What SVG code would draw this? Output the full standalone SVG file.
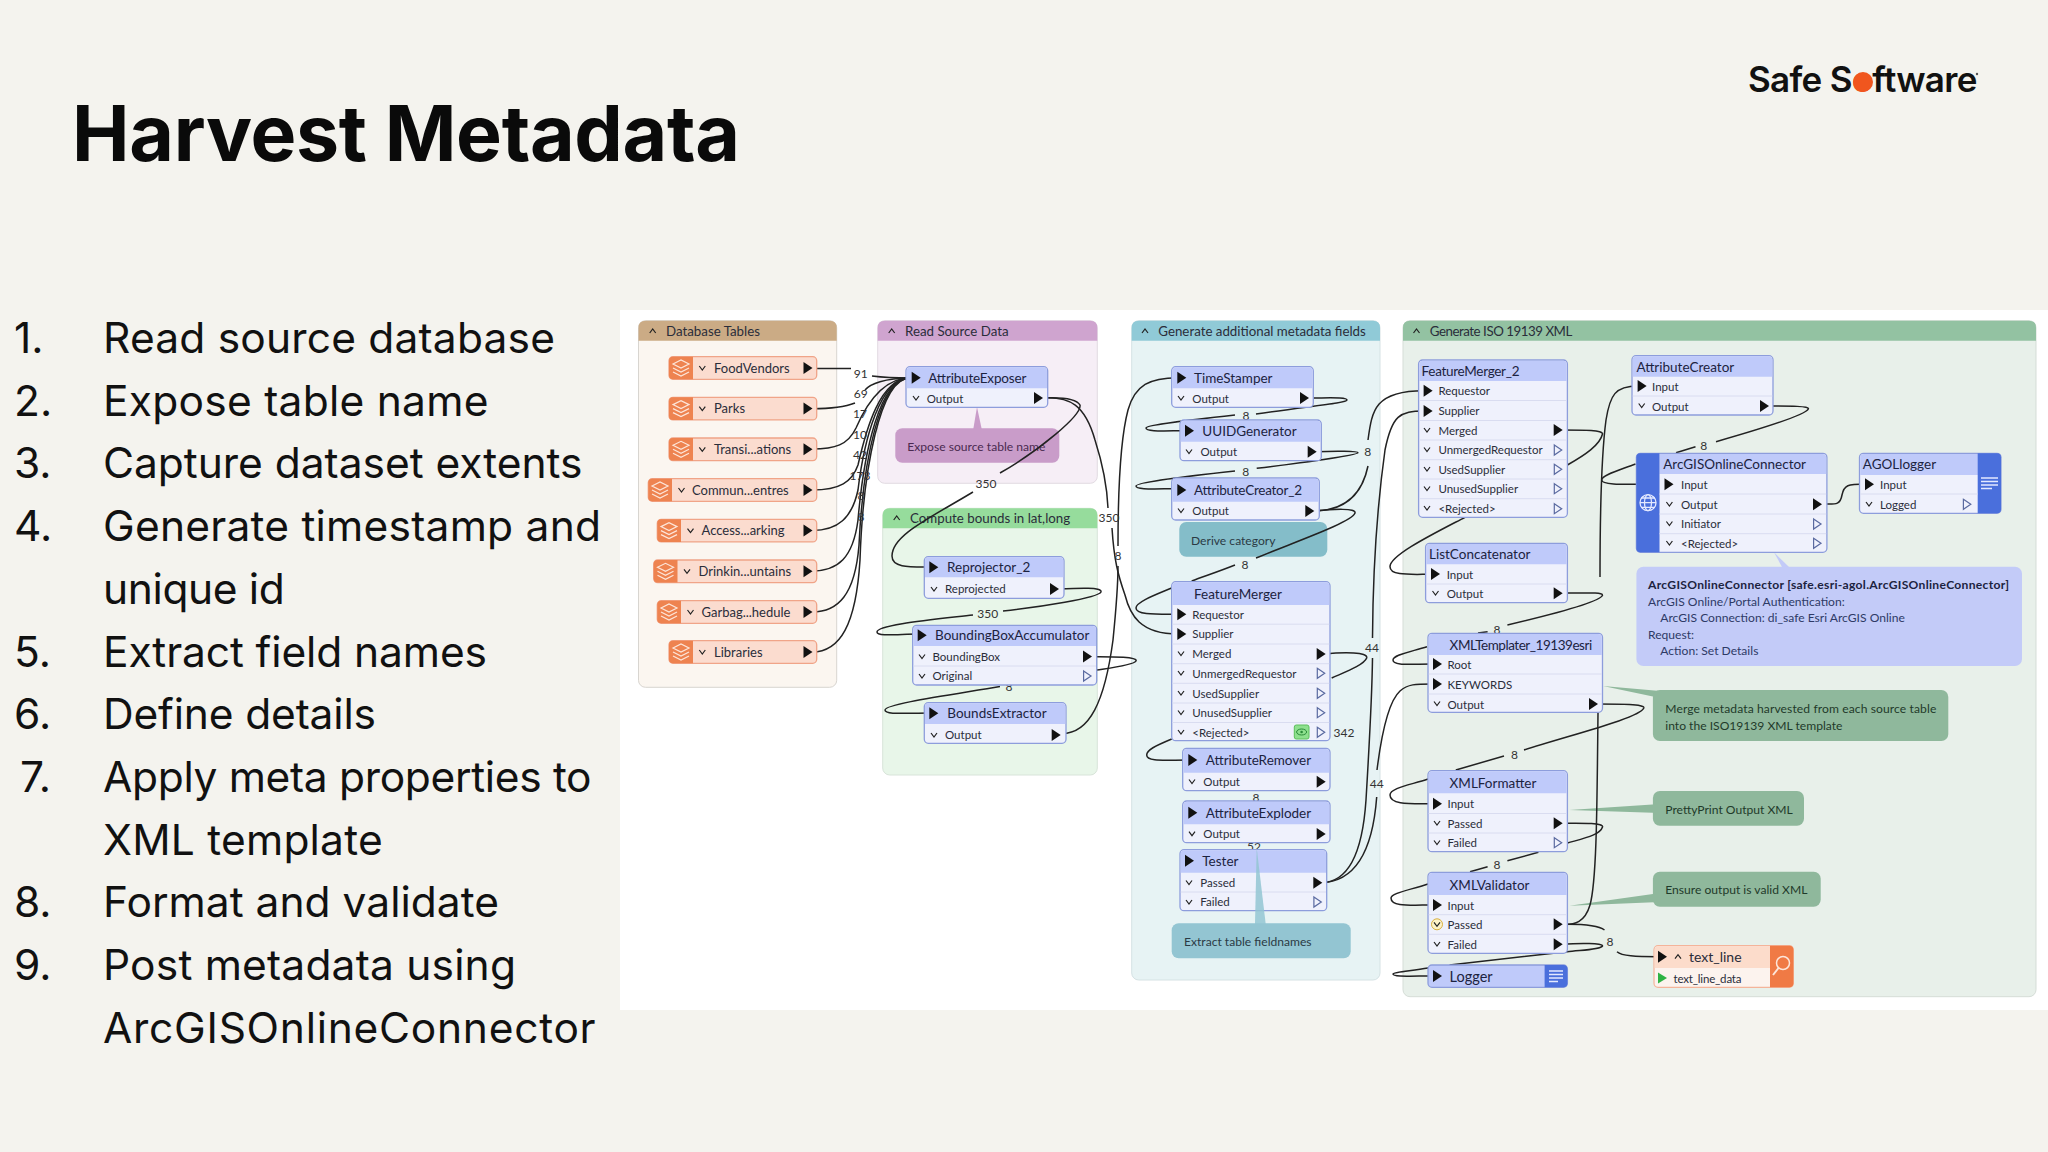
<svg xmlns="http://www.w3.org/2000/svg" width="2048" height="1152" viewBox="0 0 2048 1152">
<style>
text{font-family:Lato,"Liberation Sans",sans-serif;fill:#2a2d3a}
.h1{font-family:Inter,"Liberation Sans",sans-serif;font-weight:700;font-size:77px;fill:#0a0a0a}
.li{font-family:Inter,"Liberation Sans",sans-serif;font-size:42.5px;fill:#111}
.ph{font-size:13.3px}
.t{font-size:13.5px;fill:#1c2340}
.p{font-size:11.5px}
.rt{font-size:13px}
.lb{font-size:12px;text-anchor:middle;fill:#333}
.an{font-size:12.1px;fill:#2b3a44}
.b{fill:#eff1fc;stroke:#8d9ddc;stroke-width:1.3}
.hd{fill:#bfcafa}
.div{stroke:#d9dcf0;stroke-width:1}
.rd{fill:#fbdccf;stroke:#f0a488;stroke-width:1.3}
.ri{fill:#ee8350}
.band{fill:#4a6fdc}
.e{fill:none;stroke:#222;stroke-width:1.5}
.ch{fill:none;stroke:#222;stroke-width:1.2}
.ho{fill:none;stroke:#5a6aa0;stroke-width:1.2}
.ic{fill:none;stroke:#fde6da;stroke-width:1.2}
.wl{fill:none;stroke:#e4e9ff;stroke-width:1.3}
</style>
<defs>
<path id="ai" d="M0-6L9 0 0 6Z" fill="#111"/>
<path id="ag" d="M0-5.5L9 0 0 5.5Z" fill="#2fb344"/>
<path id="ao" d="M.6-5L8 0 .6 5Z" class="ho"/>
<path id="cd" d="M-3-2L0 2 3-2" class="ch"/>
<path id="cu" d="M-3 2L0-2 3 2" class="ch"/>
<path id="st" d="M-8-3L0-7 8-3 0 1ZM-8 1L0 5 8 1M-8 5L0 9 8 5" class="ic"/>
</defs>
<rect width="2048" height="1152" fill="#f4f3ee"/>
<rect x="620" y="310" width="1428" height="700" fill="#fff"/>
<text class="h1" x="72" y="161" textLength="668" lengthAdjust="spacing">Harvest Metadata</text>
<g id="logo"><text x="1748" y="92" style="font-family:Inter,sans-serif;font-weight:600;font-size:35px;fill:#111;letter-spacing:-.7px">Safe S<tspan style="fill:#f0561e">o</tspan>ftware</text><circle cx="1863" cy="82" r="10" fill="#f0561e"/><circle cx="1977" cy="74" r="1.2" fill="#555"/></g>
<g id="list">
<text class="li" x="14" y="353">1.</text><text class="li" x="103" y="353" textLength="452">Read source database</text>
<text class="li" x="14" y="415.7">2.</text><text class="li" x="103" y="415.7" textLength="385.5">Expose table name</text>
<text class="li" x="14" y="478.4">3.</text><text class="li" x="103" y="478.4" textLength="479.5">Capture dataset extents</text>
<text class="li" x="14" y="541">4.</text><text class="li" x="103" y="541" textLength="498">Generate timestamp and</text>
<text class="li" x="103" y="603.8" textLength="181.7">unique id</text>
<text class="li" x="14" y="666.5">5.</text><text class="li" x="103" y="666.5" textLength="384">Extract field names</text>
<text class="li" x="14" y="729">6.</text><text class="li" x="103" y="729" textLength="273">Define details</text>
<text class="li" x="20" y="792">7.</text><text class="li" x="103" y="792" textLength="488.6">Apply meta properties to</text>
<text class="li" x="103" y="854.7" textLength="279.7">XML template</text>
<text class="li" x="14" y="917.4">8.</text><text class="li" x="103" y="917.4" textLength="396">Format and validate</text>
<text class="li" x="14" y="980">9.</text><text class="li" x="103" y="980" textLength="413">Post metadata using</text>
<text class="li" x="103" y="1042.8" textLength="492.6">ArcGISOnlineConnector</text>
</g>
<g id="panels">
<g id="p-db"><rect x="638.5" y="320.7" width="198.2" height="366.6" rx="7" fill="#fbf6f0" stroke="#d8d5d0"/><path d="M638.5 340.7V327.7q0-7 7-7H829.7q7 0 7 7V340.7Z" fill="#cbab85"/><use href="#cu" x="652.7" y="331"/><text class="ph" x="666" y="335.5">Database Tables</text></g>
<g id="p-read"><rect x="877.7" y="320.7" width="219.6" height="162.6" rx="7" fill="#f6eef6" stroke="#e2dbe2"/><path d="M877.7 340.7V327.7q0-7 7-7H1090.3q7 0 7 7V340.7Z" fill="#cfa4cf"/><use href="#cu" x="891.7" y="331"/><text class="ph" x="905" y="335.5">Read Source Data</text></g>
<g id="p-bounds"><rect x="882.7" y="508.3" width="214.6" height="266.7" rx="7" fill="#e8f6e9" stroke="#d8e4d9"/><path d="M882.7 528.3V515.3q0-7 7-7H1090.3q7 0 7 7V528.3Z" fill="#96dc9c"/><use href="#cu" x="896.7" y="518"/><text class="ph" x="910" y="523">Compute bounds in lat,long</text></g>
<g id="p-gen"><rect x="1131.7" y="320.7" width="248.3" height="659.3" rx="7" fill="#e7f3f4" stroke="#d5e2e4"/><path d="M1131.7 340.7V327.7q0-7 7-7H1373q7 0 7 7V340.7Z" fill="#90cad7"/><use href="#cu" x="1145" y="331"/><text class="ph" x="1158.3" y="335.5">Generate additional metadata fields</text></g>
<g id="p-iso"><rect x="1403" y="320.7" width="633" height="676" rx="7" fill="#e8f0ea" stroke="#d5ddd7"/><path d="M1403 340.7V327.7q0-7 7-7H2029q7 0 7 7V340.7Z" fill="#93c2a2"/><use href="#cu" x="1416.5" y="331"/><text class="ph" x="1429.8" y="335.5" textLength="142.5">Generate ISO 19139 XML</text></g>
</g>
<g id="annotations">
<g id="a-expose"><path d="M973.3 429L977 407 981.7 429Z" fill="#c99cc9"/><rect x="895.3" y="428.3" width="164" height="34.4" rx="7" fill="#c99cc9"/><text class="an" x="907.3" y="451" style="fill:#4a2a50">Expose source table name</text></g>
<g id="a-derive"><rect x="1179.3" y="522" width="148" height="34.7" rx="7" fill="#84bdc9"/><text class="an" x="1191" y="545">Derive category</text></g>
<g id="a-extract"><rect x="1171.7" y="923.3" width="179" height="35" rx="7" fill="#93c5d2"/><text class="an" x="1184" y="946">Extract table fieldnames</text></g>
<g id="a-arcgis"><path d="M1774 552.3L1782 567H1789Z" fill="#c3cbf8"/><rect x="1636.4" y="566.7" width="385.6" height="99.3" rx="7" fill="#c3cbf8"/>
<text class="an" x="1648" y="589" textLength="361" style="font-weight:700;fill:#1c2340">ArcGISOnlineConnector [safe.esri-agol.ArcGISOnlineConnector]</text>
<text class="an" x="1648" y="606" style="fill:#2e3a66">ArcGIS Online/Portal Authentication:</text>
<text class="an" x="1660.3" y="622" style="fill:#2e3a66">ArcGIS Connection: di_safe Esri ArcGIS Online</text>
<text class="an" x="1648" y="638.5" style="fill:#2e3a66">Request:</text>
<text class="an" x="1660.3" y="655" style="fill:#2e3a66">Action: Set Details</text></g>
<g id="a-merge"><path d="M1603 686L1660 691V698Z" fill="#8fb89c"/><rect x="1652.9" y="690" width="295.4" height="51" rx="7" fill="#8fb89c"/><text class="an" x="1665.3" y="712.5" textLength="271" style="fill:#1f3a2a">Merge metadata harvested from each source table</text><text class="an" x="1665.3" y="729.5" style="fill:#1f3a2a">into the ISO19139 XML template</text></g>
<g id="a-pretty"><path d="M1569.4 810L1660 804V813Z" fill="#8fb89c"/><rect x="1652.9" y="791" width="151.1" height="34.7" rx="7" fill="#8fb89c"/><text class="an" x="1665.3" y="813.5" style="fill:#1f3a2a">PrettyPrint Output XML</text></g>
<g id="a-ensure"><path d="M1569.4 905.7L1660 893V902Z" fill="#8fb89c"/><rect x="1652.9" y="871.7" width="167.8" height="35" rx="7" fill="#8fb89c"/><text class="an" x="1665.3" y="894" style="fill:#1f3a2a">Ensure output is valid XML</text></g>
</g>
<g id="connectors">
<path class="e" d="M812 368.5H851M872 376C880 377 890 378 910 378"/>
<path class="e" d="M812 408.7C830 408.7 845 407 855 403M865 390C870 384 885 378 910 378"/>
<path class="e" d="M812 449C835 449 848 445 856 428C866 405 882 378 910 378"/>
<path class="e" d="M812 490C840 490 852 482 858 465C866 430 880 378 910 378"/>
<path class="e" d="M812 530.5C838 530.5 852 518 858 490C864 440 880 378 910 378"/>
<path class="e" d="M812 571C838 571 853 558 858 520C864 450 880 378 910 378"/>
<path class="e" d="M812 612C838 612 855 595 859 545C863 460 880 378 910 378"/>
<path class="e" d="M812 652C840 652 856 625 860 560C863 470 880 378 910 378"/>
<path class="e" d="M1042 398C1060 397 1076 398 1080 405C1082 415 1040 450 1000 473M973 492C930 518 892 535 892 556C892 568 910 567 930 567"/>
<path class="e" d="M1042 398C1070 396 1085 405 1095 440C1103 465 1107 485 1108 508M1112 528C1114 560 1118 575 1125 595C1130 615 1140 634 1178 634"/>
<path class="e" d="M1058 589C1080 588 1102 587 1101 592C1098 598 1040 607 1003 611M973 615C930 620 877 625 877 632C877 637 900 634 918 634"/>
<path class="e" d="M1091 656.7C1115 656.5 1138 657 1136 661C1134 665 1110 668 1097 670M1000 686.5C950 695 885 704 885 710C885 715 905 713 930 713"/>
<path class="e" d="M1060 733.5C1090 735 1105 700 1113 640C1116 610 1118 590 1118 566M1118 546C1118 500 1120 440 1128 410C1135 385 1150 377.7 1178 377.7"/>
<path class="e" d="M1308 398C1330 398 1347 397 1347 400C1347 403 1310 406 1256 414M1235 415C1190 420 1146 425 1146 428C1146 432 1165 430.7 1186 430.7"/>
<path class="e" d="M1316 451.7C1335 451 1358 451 1358 452.7C1358 455 1300 463 1256.7 468.3M1235 471C1190 476 1136 482 1136 486C1136 490 1155 488.7 1178 488.7"/>
<path class="e" d="M1313 511C1345 511 1362 495 1368 466M1368 440C1372 410 1375 390.7 1424 390.7"/>
<path class="e" d="M1313 511C1335 509 1356 508 1355 513C1352 522 1300 540 1256 558M1235 565C1220 571 1205 576 1191.7 581M1171.7 588C1155 595 1136 602 1136 608C1136 615 1155 614.3 1178 614.3"/>
<path class="e" d="M1324 654C1345 652 1368 652 1366.7 658C1364 665 1345 672 1331.7 678M1171.7 739C1155 746 1146.7 750 1146.7 755C1146.7 762 1165 760 1188 760"/>
<path class="e" d="M1321 882.7C1345 882.7 1362 860 1366 800C1369 750 1372 700 1372.5 658M1372.5 638C1373 560 1378 500 1385 450C1392 415 1400 411 1424 411"/>
<path class="e" d="M1321 882.7C1350 882 1372 860 1376.7 797M1377 770C1382 730 1390 700 1400 691C1408 684 1415 684 1433 684"/>
<path class="e" d="M1562 430C1585 430 1603 430 1602.5 434C1600 445 1585 455 1567.4 465M1465 517.3C1435 533 1390 555 1390 566.7C1390 576 1410 574.3 1431 574.3"/>
<path class="e" d="M1562 593C1585 593 1603 592 1602.5 595.3C1600 602 1550 615 1507.4 625M1487.6 631.7L1478 633M1427 646.7C1410 652 1393 655 1393 660C1393 666 1410 664 1433 664"/>
<path class="e" d="M1597 704C1620 704 1645 704 1643.8 708C1640 718 1570 735 1524 750M1504 756L1455.8 770M1428 779C1410 785 1390 788 1390 795C1390 805 1410 803.7 1433 803.7"/>
<path class="e" d="M1562 823.3C1585 823 1604 823 1602.5 827C1600 835 1585 838 1567.4 843M1538.4 852.3L1507.4 860.7M1487.6 866.7L1470 871.7M1428 884C1410 890 1391 893 1391 898C1391 907 1410 905 1433 905"/>
<path class="e" d="M1562 924.3C1575 925 1585 922 1590 905C1597 880 1597 800 1598 713M1600 577C1600 500 1602 450 1606 420C1610 395 1615 386 1638 386"/>
<path class="e" d="M1562 924.3C1580 924 1598 925 1604.5 930M1617 951.7C1622 956 1635 956.7 1658 956.7"/>
<path class="e" d="M1562 944.3C1580 943 1603 943 1602.5 946C1600 950 1580 950 1567 951.7L1449.6 965M1428 968C1410 971 1393 972 1393 974C1393 977 1410 976 1433 976"/>
<path class="e" d="M1768 406C1790 406 1810 406 1808.3 409C1805 416 1750 432 1716 441.7M1695.5 446.7L1676 452.7M1635.5 464C1620 470 1601.7 475 1601.7 480C1601.7 486 1630 484 1665 484"/>
<path class="e" d="M1821 504C1835 504 1840 506 1842 495C1844 485 1848 484 1865 484"/>
<text class="lb" x="860.7" y="377.5">91</text><text class="lb" x="860.7" y="397.5">69</text><text class="lb" x="860" y="417.5">17</text><text class="lb" x="860" y="438.5">10</text><text class="lb" x="860" y="458.5">42</text><text class="lb" x="860" y="479.5">173</text><text class="lb" x="861" y="499.5">8</text><text class="lb" x="861" y="520.5">8</text>
<text class="lb" x="986" y="487.5">350</text><text class="lb" x="1109" y="521.5">350</text><text class="lb" x="987.7" y="617.5">350</text><text class="lb" x="1009" y="691">8</text><text class="lb" x="1118" y="560">8</text>
<text class="lb" x="1246" y="419.5">8</text><text class="lb" x="1245.7" y="475.5">8</text><text class="lb" x="1367.7" y="456">8</text><text class="lb" x="1245" y="568.5">8</text><text class="lb" x="1372" y="651.5">44</text><text class="lb" x="1344" y="737">342</text><text class="lb" x="1376.7" y="787.5">44</text><text class="lb" x="1256" y="801.5">8</text><text class="lb" x="1254" y="851">52</text>
<text class="lb" x="1497" y="633.8">8</text><text class="lb" x="1514.5" y="758.5">8</text><text class="lb" x="1497" y="868.5">8</text><text class="lb" x="1610" y="946">8</text><text class="lb" x="1703.7" y="449.5">8</text>
</g>
<g id="readers">
<g id="r-foodvendors"><rect class="rd" x="669" y="356.7" width="147.7" height="22.6" rx="4"/><path class="ri" d="M693 356.7H673q-4 0-4 4V375.3q0 4 4 4H693Z"/><use href="#st" x="681" y="367"/><use href="#cd" x="702.3" y="368"/><text class="rt" x="714" y="372.5">FoodVendors</text><use href="#ai" x="803.5" y="368"/></g>
<g id="r-parks"><rect class="rd" x="669" y="397.3" width="147.7" height="22.6" rx="4"/><path class="ri" d="M693 397.3H673q-4 0-4 4V415.9q0 4 4 4H693Z"/><use href="#st" x="681" y="407.6"/><use href="#cd" x="702.3" y="408.6"/><text class="rt" x="714" y="413">Parks</text><use href="#ai" x="803.5" y="408.6"/></g>
<g id="r-transi"><rect class="rd" x="669" y="438" width="147.7" height="22.6" rx="4"/><path class="ri" d="M693 438H673q-4 0-4 4V456.6q0 4 4 4H693Z"/><use href="#st" x="681" y="448.3"/><use href="#cd" x="702.3" y="449.3"/><text class="rt" x="714" y="454">Transi...ations</text><use href="#ai" x="803.5" y="449.3"/></g>
<g id="r-commun"><rect class="rd" x="648.3" y="478.7" width="168.4" height="22.6" rx="4"/><path class="ri" d="M672 478.7H652.3q-4 0-4 4V497.3q0 4 4 4H672Z"/><use href="#st" x="660" y="489"/><use href="#cd" x="681.5" y="490"/><text class="rt" x="692" y="494.5">Commun...entres</text><use href="#ai" x="803.5" y="490"/></g>
<g id="r-access"><rect class="rd" x="657.3" y="519.3" width="159.4" height="22.6" rx="4"/><path class="ri" d="M681 519.3H661.3q-4 0-4 4V537.9q0 4 4 4H681Z"/><use href="#st" x="669" y="529.6"/><use href="#cd" x="690.5" y="530.6"/><text class="rt" x="701.5" y="535">Access...arking</text><use href="#ai" x="803.5" y="530.6"/></g>
<g id="r-drinkin"><rect class="rd" x="653.7" y="560" width="163" height="22.6" rx="4"/><path class="ri" d="M677.5 560H657.7q-4 0-4 4V578.6q0 4 4 4H677.5Z"/><use href="#st" x="665.5" y="570.3"/><use href="#cd" x="687" y="571.3"/><text class="rt" x="698.5" y="576">Drinkin...untains</text><use href="#ai" x="803.5" y="571.3"/></g>
<g id="r-garbag"><rect class="rd" x="657.3" y="600.7" width="159.4" height="22.6" rx="4"/><path class="ri" d="M681 600.7H661.3q-4 0-4 4V619.3q0 4 4 4H681Z"/><use href="#st" x="669" y="611"/><use href="#cd" x="690.5" y="612"/><text class="rt" x="701.5" y="616.5">Garbag...hedule</text><use href="#ai" x="803.5" y="612"/></g>
<g id="r-libraries"><rect class="rd" x="669" y="640.7" width="147.7" height="22.6" rx="4"/><path class="ri" d="M693 640.7H673q-4 0-4 4V659.3q0 4 4 4H693Z"/><use href="#st" x="681" y="651"/><use href="#cd" x="702.3" y="652"/><text class="rt" x="714" y="656.5">Libraries</text><use href="#ai" x="803.5" y="652"/></g>
</g>
<g id="nodes">
<g id="n-attributeexposer"><rect class="b" x="906" y="366.7" width="141.7" height="40.6" rx="4"/><path class="hd" d="M906.7 388.3V371q0-3.7 3.7-3.7H1043.3q3.7 0 3.7 3.7V388.3Z"/><use href="#ai" x="911.7" y="377.7"/><text class="t" x="928.3" y="382.5" textLength="98">AttributeExposer</text><use href="#cd" x="916" y="398"/><text class="p" x="926.7" y="402.5">Output</text><use href="#ai" x="1034" y="398"/></g>
<g id="n-reprojector"><rect class="b" x="924.3" y="556.7" width="139.7" height="41.6" rx="4"/><path class="hd" d="M925 577.3V561q0-3.7 3.7-3.7H1059.6q3.7 0 3.7 3.7V577.3Z"/><use href="#ai" x="929.3" y="567.3"/><text class="t" x="947" y="572">Reprojector_2</text><use href="#cd" x="934" y="589"/><text class="p" x="945" y="593">Reprojected</text><use href="#ai" x="1050" y="589"/></g>
<g id="n-bba"><rect class="b" x="912.7" y="625.3" width="184" height="59.7" rx="4"/><path class="hd" d="M913.4 646V629.7q0-3.7 3.7-3.7H1092.3q3.7 0 3.7 3.7V646Z"/><use href="#ai" x="917.7" y="635.3"/><text class="t" x="935" y="640">BoundingBoxAccumulator</text><line class="div" x1="913.4" y1="666" x2="1096" y2="666"/><use href="#cd" x="922" y="656.5"/><text class="p" x="932.5" y="660.5">BoundingBox</text><use href="#ai" x="1083" y="656.5"/><use href="#cd" x="922" y="676"/><text class="p" x="932.5" y="680">Original</text><use href="#ao" x="1083" y="676"/></g>
<g id="n-boundsextractor"><rect class="b" x="924.3" y="702.7" width="141.7" height="40.6" rx="4"/><path class="hd" d="M925 724V707q0-3.7 3.7-3.7H1061.6q3.7 0 3.7 3.7V724Z"/><use href="#ai" x="929.3" y="713.3"/><text class="t" x="947.3" y="718">BoundsExtractor</text><use href="#cd" x="934" y="735"/><text class="p" x="945" y="739">Output</text><use href="#ai" x="1051.7" y="735"/></g>
<g id="n-timestamper"><rect class="b" x="1171.7" y="366.7" width="141.6" height="40.6" rx="4"/><path class="hd" d="M1172.4 388.3V371q0-3.7 3.7-3.7H1308.9q3.7 0 3.7 3.7V388.3Z"/><use href="#ai" x="1177.3" y="377.7"/><text class="t" x="1194" y="382.5">TimeStamper</text><use href="#cd" x="1181" y="398"/><text class="p" x="1192.3" y="402.5">Output</text><use href="#ai" x="1300" y="398"/></g>
<g id="n-uuid"><rect class="b" x="1180" y="420" width="141.3" height="40.7" rx="4"/><path class="hd" d="M1180.7 441.7V424.4q0-3.7 3.7-3.7H1316.9q3.7 0 3.7 3.7V441.7Z"/><use href="#ai" x="1185" y="430.7"/><text class="t" x="1202.3" y="435.5">UUIDGenerator</text><use href="#cd" x="1189" y="451.5"/><text class="p" x="1200.5" y="456">Output</text><use href="#ai" x="1307.7" y="451.7"/></g>
<g id="n-attrcreator2"><rect class="b" x="1171.7" y="478" width="147.6" height="42" rx="4"/><path class="hd" d="M1172.4 501.7V482.4q0-3.7 3.7-3.7H1314.9q3.7 0 3.7 3.7V501.7Z"/><use href="#ai" x="1177.3" y="490"/><text class="t" x="1194" y="494.8" textLength="108">AttributeCreator_2</text><use href="#cd" x="1181" y="510.5"/><text class="p" x="1192.3" y="515">Output</text><use href="#ai" x="1305.3" y="511"/></g>
<g id="n-featuremerger"><rect class="b" x="1171.7" y="581.7" width="158.3" height="159" rx="4"/><path class="hd" d="M1172.4 605V586q0-3.7 3.7-3.7H1325.6q3.7 0 3.7 3.7V605Z"/><text class="t" x="1194" y="598.5">FeatureMerger</text>
<path class="div" d="M1172.4 624.2H1329.3M1172.4 644H1329.3M1172.4 663.7H1329.3M1172.4 683.3H1329.3M1172.4 703H1329.3M1172.4 722.5H1329.3"/>
<use href="#ai" x="1177.3" y="614.3"/><text class="p" x="1192.3" y="618.5">Requestor</text>
<use href="#ai" x="1177.3" y="634"/><text class="p" x="1192.3" y="638">Supplier</text>
<use href="#cd" x="1181" y="653.5"/><text class="p" x="1192.3" y="658">Merged</text><use href="#ai" x="1316.7" y="654"/>
<use href="#cd" x="1181" y="673"/><text class="p" x="1192.3" y="677.5">UnmergedRequestor</text><use href="#ao" x="1316.7" y="673.3"/>
<use href="#cd" x="1181" y="693"/><text class="p" x="1192.3" y="697.5">UsedSupplier</text><use href="#ao" x="1316.7" y="693.3"/>
<use href="#cd" x="1181" y="712.5"/><text class="p" x="1192.3" y="717">UnusedSupplier</text><use href="#ao" x="1316.7" y="712.7"/>
<use href="#cd" x="1181" y="732"/><text class="p" x="1192.3" y="736.5">&lt;Rejected&gt;</text><use href="#ao" x="1316.7" y="732.3"/>
<rect x="1294.3" y="725" width="14.7" height="14" rx="2" fill="#8ee08e" stroke="#5cc05c"/><ellipse cx="1301.6" cy="732" rx="5" ry="3" fill="none" stroke="#2a8a3a"/><circle cx="1301.6" cy="732" r="1.3" fill="#2a8a3a"/></g>
<g id="n-attrremover"><rect class="b" x="1182.7" y="748.3" width="147.3" height="42.4" rx="4"/><path class="hd" d="M1183.4 772.7V752.7q0-3.7 3.7-3.7H1325.6q3.7 0 3.7 3.7V772.7Z"/><use href="#ai" x="1188.3" y="760"/><text class="t" x="1205.7" y="765">AttributeRemover</text><use href="#cd" x="1192" y="781.5"/><text class="p" x="1203.3" y="786">Output</text><use href="#ai" x="1316.7" y="781.7"/></g>
<g id="n-attrexploder"><rect class="b" x="1182.7" y="801" width="147.3" height="41.7" rx="4"/><path class="hd" d="M1183.4 824.3V805.4q0-3.7 3.7-3.7H1325.6q3.7 0 3.7 3.7V824.3Z"/><use href="#ai" x="1188.3" y="812.7"/><text class="t" x="1205.7" y="817.5">AttributeExploder</text><use href="#cd" x="1192" y="833.7"/><text class="p" x="1203.3" y="838">Output</text><use href="#ai" x="1316.7" y="834"/></g>
<g id="n-tester"><rect class="b" x="1180" y="849.7" width="146.7" height="61" rx="4"/><path class="hd" d="M1180.7 872.7V854q0-3.7 3.7-3.7H1322.3q3.7 0 3.7 3.7V872.7Z"/><use href="#ai" x="1185" y="860.7"/><text class="t" x="1202.3" y="866">Tester</text><line class="div" x1="1180.7" y1="892" x2="1326" y2="892"/><use href="#cd" x="1189" y="882.5"/><text class="p" x="1200.3" y="887">Passed</text><use href="#ai" x="1313.3" y="882.7"/><use href="#cd" x="1189" y="902"/><text class="p" x="1200.3" y="906">Failed</text><use href="#ao" x="1313.3" y="902"/></g>
<path id="stem-extract" d="M1256.7 848L1255 924H1265.7Z" fill="#93c5d2" fill-opacity=".85"/>
<g id="n-featuremerger2"><rect class="b" x="1418.6" y="360" width="148.8" height="157.3" rx="4"/><path class="hd" d="M1419.3 381V364.4q0-3.7 3.7-3.7H1563q3.7 0 3.7 3.7V381Z"/><text class="t" x="1421.5" y="375.5" textLength="98">FeatureMerger_2</text>
<path class="div" d="M1419.3 400.5H1566.7M1419.3 420.5H1566.7M1419.3 440H1566.7M1419.3 459.7H1566.7M1419.3 479H1566.7M1419.3 498.7H1566.7"/>
<use href="#ai" x="1423.6" y="390.7"/><text class="p" x="1438.4" y="395">Requestor</text>
<use href="#ai" x="1423.6" y="411"/><text class="p" x="1438.4" y="415">Supplier</text>
<use href="#cd" x="1427" y="430"/><text class="p" x="1438.4" y="434.5">Merged</text><use href="#ai" x="1553.7" y="430"/>
<use href="#cd" x="1427" y="449.5"/><text class="p" x="1438.4" y="454">UnmergedRequestor</text><use href="#ao" x="1553.7" y="450"/>
<use href="#cd" x="1427" y="469"/><text class="p" x="1438.4" y="473.5">UsedSupplier</text><use href="#ao" x="1553.7" y="469.3"/>
<use href="#cd" x="1427" y="488.5"/><text class="p" x="1438.4" y="493">UnusedSupplier</text><use href="#ao" x="1553.7" y="488.7"/>
<use href="#cd" x="1427" y="508"/><text class="p" x="1438.4" y="513">&lt;Rejected&gt;</text><use href="#ao" x="1553.7" y="508.7"/></g>
<g id="n-listconcat"><rect class="b" x="1425.6" y="543.3" width="141.8" height="59.4" rx="4"/><path class="hd" d="M1426.3 564.3V547.7q0-3.7 3.7-3.7H1563q3.7 0 3.7 3.7V564.3Z"/><text class="t" x="1429" y="559">ListConcatenator</text><line class="div" x1="1426.3" y1="584" x2="1566.7" y2="584"/><use href="#ai" x="1431" y="574"/><text class="p" x="1446.7" y="578.5">Input</text><use href="#cd" x="1435.5" y="593"/><text class="p" x="1446.7" y="597.5">Output</text><use href="#ai" x="1553.7" y="593.3"/></g>
<g id="n-xmltemplater"><rect class="b" x="1428" y="633.3" width="174.5" height="79" rx="4"/><path class="hd" d="M1428.7 655V637.7q0-3.7 3.7-3.7H1598.1q3.7 0 3.7 3.7V655Z"/><text class="t" x="1449.6" y="650" textLength="142.6">XMLTemplater_19139esri</text><path class="div" d="M1428.7 674H1601.8M1428.7 694H1601.8"/><use href="#ai" x="1433" y="664"/><text class="p" x="1447.5" y="668.5">Root</text><use href="#ai" x="1433" y="684"/><text class="p" x="1447.5" y="688.5">KEYWORDS</text><use href="#cd" x="1437" y="703.5"/><text class="p" x="1447.5" y="708.5">Output</text><use href="#ai" x="1589" y="704"/></g>
<g id="n-xmlformatter"><rect class="b" x="1428" y="770.7" width="139.4" height="81" rx="4"/><path class="hd" d="M1428.7 793.3V775q0-3.7 3.7-3.7H1563q3.7 0 3.7 3.7V793.3Z"/><text class="t" x="1449.6" y="787.5">XMLFormatter</text><path class="div" d="M1428.7 813.5H1566.7M1428.7 833H1566.7"/><use href="#ai" x="1433" y="803.7"/><text class="p" x="1447.5" y="808">Input</text><use href="#cd" x="1437" y="823"/><text class="p" x="1447.5" y="827.5">Passed</text><use href="#ai" x="1553.7" y="823.3"/><use href="#cd" x="1437" y="842.5"/><text class="p" x="1447.5" y="847">Failed</text><use href="#ao" x="1553.7" y="842.7"/></g>
<g id="n-xmlvalidator"><rect class="b" x="1428" y="872.3" width="139.4" height="81" rx="4"/><path class="hd" d="M1428.7 895V876.7q0-3.7 3.7-3.7H1563q3.7 0 3.7 3.7V895Z"/><text class="t" x="1449.6" y="889.5">XMLValidator</text><path class="div" d="M1428.7 914.7H1566.7M1428.7 934.3H1566.7"/><use href="#ai" x="1433" y="905"/><text class="p" x="1447.5" y="909.5">Input</text><circle cx="1437" cy="924.3" r="5.5" fill="#fdf2c8" stroke="#d8b040"/><use href="#cd" x="1437" y="924.3"/><text class="p" x="1447.5" y="928.5">Passed</text><use href="#ai" x="1553.7" y="924.3"/><use href="#cd" x="1437" y="944"/><text class="p" x="1447.5" y="948.5">Failed</text><use href="#ai" x="1553.7" y="944.3"/></g>
<g id="n-logger"><rect class="b" x="1428" y="965" width="139.4" height="22.3" rx="4" style="fill:#bfcafa"/><path class="band" d="M1544.6 965H1563.4q4 0 4 4V983.3q0 4-4 4H1544.6Z"/><path class="wl" d="M1549 971H1563M1549 974.5H1563M1549 978H1563M1549 981.5H1558"/><use href="#ai" x="1433" y="976"/><text class="t" x="1449.6" y="982" style="font-size:14.5px">Logger</text></g>
<g id="n-attrcreator"><rect class="b" x="1632" y="355.7" width="141" height="59.3" rx="4"/><path class="hd" d="M1632.7 376.7V360q0-3.7 3.7-3.7H1768.6q3.7 0 3.7 3.7V376.7Z"/><text class="t" x="1636.4" y="371.5">AttributeCreator</text><line class="div" x1="1632.7" y1="396" x2="1772.3" y2="396"/><use href="#ai" x="1637.6" y="386"/><text class="p" x="1652" y="390.5">Input</text><use href="#cd" x="1641.7" y="405.5"/><text class="p" x="1652" y="410.5">Output</text><use href="#ai" x="1760" y="406"/></g>
<g id="n-arcgis"><rect class="b" x="1636.4" y="453.3" width="190.5" height="99" rx="4"/><path class="hd" d="M1659.5 474V454H1822.5q3.7 0 3.7 3.7V474Z"/><path class="band" d="M1659.5 453.3H1640.4q-4 0-4 4V548.3q0 4 4 4H1659.5Z"/><g class="wl"><circle cx="1648" cy="502.7" r="8"/><ellipse cx="1648" cy="502.7" rx="3.5" ry="8"/><path d="M1640 502.7H1656M1641 498H1655M1641 507.4H1655"/></g><text class="t" x="1663.2" y="468.5">ArcGISOnlineConnector</text><path class="div" d="M1659.5 494H1826.2M1659.5 514H1826.2M1659.5 533.7H1826.2"/><use href="#ai" x="1664.5" y="484.3"/><text class="p" x="1681" y="488.5">Input</text><use href="#cd" x="1669.4" y="504"/><text class="p" x="1681" y="508.5">Output</text><use href="#ai" x="1813" y="504.3"/><use href="#cd" x="1669.4" y="523.5"/><text class="p" x="1681" y="528">Initiator</text><use href="#ao" x="1813" y="524"/><use href="#cd" x="1669.4" y="543"/><text class="p" x="1681" y="547.5">&lt;Rejected&gt;</text><use href="#ao" x="1813" y="543.3"/></g>
<g id="n-agollogger"><rect class="b" x="1859.5" y="453.3" width="141.5" height="60" rx="4"/><path class="hd" d="M1860.2 475V457.7q0-3.7 3.7-3.7H1978V475Z"/><path class="band" d="M1977.7 453.3H1997q4 0 4 4V509.3q0 4-4 4H1977.7Z"/><path class="wl" d="M1981 478H1998M1981 481.5H1998M1981 485H1998M1981 488.5H1992"/><text class="t" x="1862.8" y="469">AGOLlogger</text><line class="div" x1="1860.2" y1="494" x2="1977.7" y2="494"/><use href="#ai" x="1865" y="484.3"/><text class="p" x="1880" y="488.5">Input</text><use href="#cd" x="1869" y="504"/><text class="p" x="1880" y="508.5">Logged</text><use href="#ao" x="1962.8" y="504.3"/></g>
<g id="n-textline"><rect x="1654" y="945.7" width="139.4" height="41.6" rx="4" fill="#fcf3ee" stroke="#f4b49a" stroke-width="1.2"/><path d="M1654.7 968V950q0-3.7 3.7-3.7H1770V968Z" fill="#fcdccb"/><path d="M1770 945.7H1789.4q4 0 4 4V983.3q0 4-4 4H1770Z" fill="#f07a45"/><circle cx="1783" cy="963" r="6.5" fill="none" stroke="#fde6da" stroke-width="1.5"/><path d="M1778.5 968L1773 975" stroke="#fde6da" stroke-width="2"/><use href="#ai" x="1658" y="956.7"/><use href="#cu" x="1678" y="956.7"/><text x="1689" y="962" style="font-size:14px">text_line</text><use href="#ag" x="1658" y="978"/><text class="p" x="1673.5" y="982.5" textLength="68">text_line_data</text></g>
</g>
</svg>
